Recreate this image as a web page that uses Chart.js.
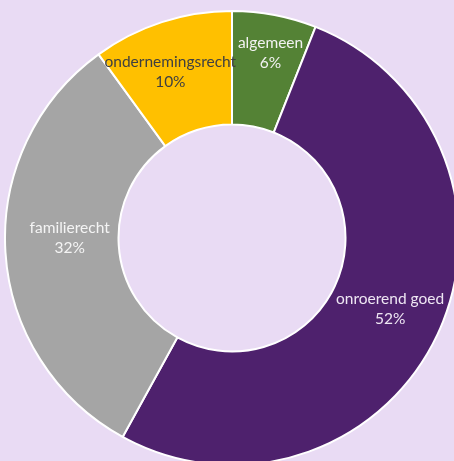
<!DOCTYPE html>
<html>
<head>
<meta charset="utf-8">
<script src="https://cdn.jsdelivr.net/npm/chart.js@4"></script>
<style>
  html, body { margin: 0; padding: 0; background: #e9dbf4; overflow: hidden; }
  body { width: 454px; height: 461px; position: relative; }
  #wrap { position: absolute; left: 4px; top: 10px; width: 456px; height: 456px; }
</style>
</head>
<body>
<div id="wrap"><canvas id="grafiek"></canvas></div>
<script>
  const categorieen = ['algemeen', 'onroerend goed', 'familierecht', 'ondernemingsrecht']
  const percentages = [6, 52, 32, 10]
  const kleuren = ['#548235', '#4e216d', '#a5a5a5', '#ffc000']
  const tekstKleuren = ['#f2f2f2', '#eee6f3', '#f4f4f4', '#404040']
  // kleine verschuiving van de labels t.o.v. het midden van het segment (px)
  const labelVerschuiving = [[6, -14], [1, -3], [11, -11], [-8, -1]]

  // labels in het midden van elk segment, zoals in Excel
  const segmentLabels = {
    id: 'segmentLabels',
    afterDatasetsDraw(chart) {
      const c = chart.ctx
      const meta = chart.getDatasetMeta(0)
      c.save()
      c.font = '15.5px Lato, "Open Sans", sans-serif'
      c.textAlign = 'center'
      c.textBaseline = 'middle'
      meta.data.forEach((arc, i) => {
        const p = arc.getProps(['x', 'y', 'startAngle', 'endAngle', 'innerRadius', 'outerRadius'])
        const mid = (p.startAngle + p.endAngle) / 2
        const r = p.innerRadius + 0.53 * (p.outerRadius - p.innerRadius)
        const x = p.x + Math.cos(mid) * r + labelVerschuiving[i][0]
        const y = p.y + Math.sin(mid) * r + labelVerschuiving[i][1]
        c.fillStyle = tekstKleuren[i]
        c.fillText(categorieen[i], x, y - 10)
        c.fillText(percentages[i] + '%', x, y + 10)
      })
      c.restore()
    }
  }

  new Chart(document.getElementById('grafiek'), {
    type: 'doughnut',
    data: {
      labels: categorieen,
      datasets: [{
        data: percentages,
        backgroundColor: kleuren,
        borderColor: '#ffffff',
        borderWidth: 2
      }]
    },
    options: {
      responsive: true,
      maintainAspectRatio: false,
      animation: false,
      cutout: '50%',
      layout: { padding: 0 },
      plugins: {
        legend: { display: false },
        tooltip: { enabled: false }
      }
    },
    plugins: [segmentLabels]
  })
</script>
</body>
</html>
